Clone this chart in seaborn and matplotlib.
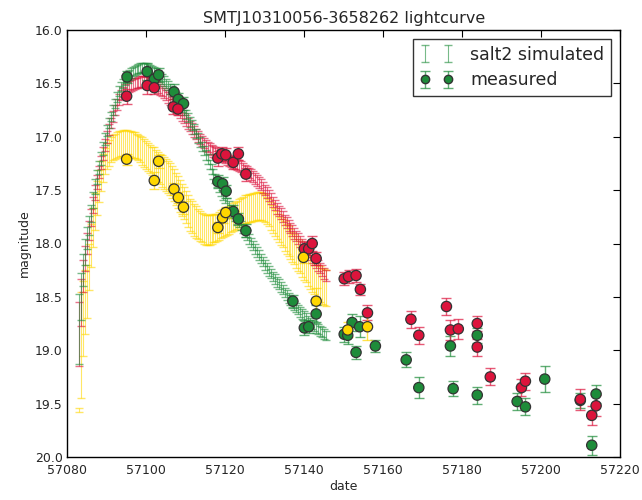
import numpy as np
import pandas as pd
import matplotlib
matplotlib.use("Agg")
import matplotlib.pyplot as plt
import seaborn as sns
from matplotlib.legend_handler import HandlerTuple
from matplotlib.lines import Line2D

# ---------------- simulated (salt2) light curves, half-day grid 57083.0 .. 57145.5 ----------------
sim_dates = [57083 + 0.5 * i for i in range(126)]

sim_g = [18.80, 18.50, 18.25, 18.08, 17.95, 17.83, 17.72, 17.59, 17.47, 17.38,
         17.29, 17.20, 17.11, 17.02, 16.94, 16.87, 16.81, 16.75, 16.69, 16.63,
         16.57, 16.53, 16.50, 16.47, 16.44, 16.42, 16.40, 16.39, 16.38, 16.37,
         16.36, 16.355, 16.35, 16.35, 16.35, 16.36, 16.37, 16.38, 16.39, 16.40,
         16.42, 16.44, 16.46, 16.48, 16.50, 16.52, 16.55, 16.57, 16.60, 16.63,
         16.66, 16.69, 16.72, 16.75, 16.79, 16.82, 16.86, 16.89, 16.93, 16.97,
         17.01, 17.05, 17.09, 17.13, 17.17, 17.21, 17.26, 17.30, 17.35, 17.39,
         17.43, 17.47, 17.51, 17.55, 17.58, 17.62, 17.65, 17.68, 17.71, 17.74,
         17.77, 17.80, 17.83, 17.86, 17.89, 17.92, 17.96, 17.99, 18.02, 18.05,
         18.08, 18.11, 18.14, 18.17, 18.20, 18.23, 18.26, 18.28, 18.31, 18.33,
         18.36, 18.38, 18.41, 18.43, 18.46, 18.48, 18.51, 18.53, 18.55, 18.58,
         18.60, 18.62, 18.64, 18.66, 18.68, 18.70, 18.72, 18.74, 18.76, 18.77,
         18.79, 18.80, 18.82, 18.83, 18.85, 18.86]
sim_g_err = [0.33, 0.22, 0.15, 0.12, 0.10, 0.09, 0.08, 0.075, 0.07, 0.065,
             0.06, 0.06, 0.06, 0.055, 0.05] + [0.045] * 111

sim_r = [18.85, 18.55, 18.30, 18.14, 18.00, 17.88, 17.76, 17.64, 17.52, 17.42,
         17.33, 17.24, 17.16, 17.08, 17.00, 16.93, 16.87, 16.81, 16.75, 16.70,
         16.65, 16.61, 16.58, 16.56, 16.54, 16.53, 16.52, 16.51, 16.50, 16.495,
         16.49, 16.485, 16.48, 16.48, 16.48, 16.485, 16.49, 16.50, 16.51, 16.525,
         16.54, 16.555, 16.57, 16.59, 16.61, 16.63, 16.65, 16.675, 16.70, 16.725,
         16.75, 16.775, 16.80, 16.825, 16.85, 16.875, 16.90, 16.925, 16.95, 16.975,
         17.00, 17.02, 17.04, 17.06, 17.08, 17.095, 17.11, 17.125, 17.14, 17.15,
         17.16, 17.17, 17.18, 17.19, 17.20, 17.21, 17.22, 17.23, 17.24, 17.25,
         17.26, 17.27, 17.28, 17.295, 17.31, 17.325, 17.34, 17.355, 17.37, 17.39,
         17.41, 17.43, 17.45, 17.475, 17.50, 17.525, 17.55, 17.58, 17.61, 17.64,
         17.67, 17.695, 17.72, 17.75, 17.78, 17.805, 17.83, 17.855, 17.88, 17.905,
         17.93, 17.955, 17.98, 18.005, 18.03, 18.055, 18.08, 18.105, 18.13, 18.155,
         18.18, 18.205, 18.23, 18.255, 18.28, 18.30]
sim_r_err = [0.30, 0.22, 0.15, 0.12, 0.10, 0.09, 0.08, 0.075, 0.07, 0.065,
             0.06, 0.06, 0.06, 0.055, 0.055] + [0.05] * 111

sim_y = [19.56, 18.95, 18.70, 18.55, 18.45, 18.22, 18.02, 17.85, 17.70, 17.57,
         17.46, 17.37, 17.29, 17.23, 17.18, 17.15, 17.12, 17.10, 17.09, 17.08,
         17.07, 17.065, 17.06, 17.06, 17.06, 17.065, 17.07, 17.075, 17.08, 17.09,
         17.10, 17.115, 17.13, 17.15, 17.17, 17.19, 17.21, 17.225, 17.24, 17.26,
         17.28, 17.30, 17.32, 17.34, 17.36, 17.38, 17.40, 17.425, 17.45, 17.485,
         17.52, 17.555, 17.59, 17.625, 17.66, 17.695, 17.73, 17.755, 17.78, 17.80,
         17.82, 17.835, 17.85, 17.86, 17.87, 17.87, 17.87, 17.865, 17.86, 17.855,
         17.85, 17.835, 17.82, 17.81, 17.80, 17.79, 17.78, 17.765, 17.75, 17.74,
         17.73, 17.715, 17.70, 17.69, 17.68, 17.675, 17.67, 17.665, 17.66, 17.655,
         17.65, 17.65, 17.65, 17.66, 17.67, 17.69, 17.71, 17.74, 17.77, 17.80,
         17.83, 17.855, 17.88, 17.905, 17.93, 17.955, 17.98, 18.005, 18.03, 18.055,
         18.08, 18.105, 18.13, 18.16, 18.19, 18.215, 18.24, 18.265, 18.29, 18.315,
         18.34, 18.36, 18.38, 18.395, 18.41, 18.42]
sim_y_err = ([0.02, 0.50, 0.35, 0.30, 0.25, 0.22, 0.20, 0.18, 0.17, 0.16,
              0.15, 0.14, 0.13] + [0.12] * 19 + [0.13] * 6 + [0.14] * 4 + [0.15] * 18
             + [0.14] * 8 + [0.13] * 36 + [0.14] * 6 + [0.15] * 6 + [0.16] * 6 + [0.17] * 4)

# ---------------- measured points ----------------
meas_g_date = [57095.1, 57100.2, 57102.0, 57103.1, 57107.0, 57108.1, 57109.4,
               57118.1, 57119.3, 57120.2, 57122.0, 57123.3, 57125.2,
               57137.1, 57140.0, 57141.1, 57143.0, 57150.1, 57151.0, 57152.1,
               57153.1, 57154.0, 57158.0, 57165.8, 57169.0, 57177.0, 57177.7,
               57183.8, 57183.8, 57193.9, 57196.0, 57200.9, 57209.9, 57212.8,
               57213.9]
meas_g_mag = [16.44, 16.39, 16.46, 16.42, 16.58, 16.65, 16.69,
              17.42, 17.44, 17.51, 17.70, 17.77, 17.88,
              18.54, 18.79, 18.78, 18.66, 18.85, 18.86, 18.74,
              19.02, 18.78, 18.96, 19.09, 19.35, 18.96, 19.36,
              18.86, 19.42, 19.48, 19.53, 19.27, 19.47, 19.89,
              19.41]
meas_g_err = [0.06, 0.08, 0.06, 0.06, 0.07, 0.06, 0.06,
              0.06, 0.06, 0.06, 0.06, 0.06, 0.06,
              0.06, 0.07, 0.06, 0.08, 0.07, 0.08, 0.08,
              0.06, 0.10, 0.06, 0.07, 0.10, 0.09, 0.07,
              0.07, 0.08, 0.08, 0.08, 0.12, 0.07, 0.09,
              0.08]

meas_r_date = [57095.0, 57100.2, 57102.0, 57106.8, 57108.0,
               57118.1, 57119.1, 57120.1, 57122.0, 57123.3, 57125.2,
               57140.0, 57141.1, 57142.0, 57143.0, 57150.1, 57151.2, 57153.1,
               57154.2, 57156.0, 57167.0, 57169.0, 57176.0, 57177.0, 57179.0,
               57183.8, 57183.8, 57187.1, 57195.0, 57196.0, 57209.9, 57212.8,
               57213.9]
meas_r_mag = [16.62, 16.52, 16.54, 16.72, 16.74,
              17.20, 17.16, 17.17, 17.24, 17.16, 17.35,
              18.05, 18.05, 18.00, 18.14, 18.33, 18.31, 18.30,
              18.43, 18.65, 18.71, 18.86, 18.59, 18.81, 18.80,
              18.75, 18.97, 19.25, 19.35, 19.29, 19.46, 19.61,
              19.52]
meas_r_err = [0.07, 0.08, 0.06, 0.07, 0.06,
              0.07, 0.06, 0.06, 0.06, 0.06, 0.06,
              0.06, 0.06, 0.07, 0.06, 0.06, 0.06, 0.06,
              0.05, 0.07, 0.08, 0.08, 0.08, 0.09, 0.09,
              0.07, 0.08, 0.08, 0.08, 0.08, 0.10, 0.09,
              0.10]

meas_y_date = [57095.0, 57102.0, 57103.1, 57107.0, 57108.1, 57109.4,
               57118.1, 57119.3, 57120.1, 57139.8, 57143.0, 57151.0, 57156.0]
meas_y_mag = [17.21, 17.41, 17.23, 17.49, 17.57, 17.66,
              17.85, 17.76, 17.71, 18.13, 18.54, 18.81, 18.78]
meas_y_err = [0.05, 0.08, 0.06, 0.06, 0.05, 0.06,
              0.05, 0.05, 0.05, 0.05, 0.12, 0.07, 0.12]

x_ticks = [57080, 57100, 57120, 57140, 57160, 57180, 57200, 57220]
y_ticks = [16.0, 16.5, 17.0, 17.5, 18.0, 18.5, 19.0, 19.5, 20.0]

GREEN = "#1e8c3a"
RED = "#dc143c"
GOLD = "#ffd700"

sns.set_style("white")
plt.rcParams["font.family"] = ["DejaVu Sans"]

fig = plt.figure(figsize=(6.42, 5.0), dpi=100)
ax = fig.add_axes([0.105, 0.086, 0.861, 0.854])

# simulated curves
sim_handles = {}
for mags, errs, col in [(sim_y, sim_y_err, GOLD), (sim_r, sim_r_err, RED), (sim_g, sim_g_err, GREEN)]:
    n = min(len(sim_dates), len(mags), len(errs))
    h = ax.errorbar(sim_dates[:n], mags[:n], yerr=errs[:n], fmt="none", ecolor=col,
                    elinewidth=0.8, capsize=3.0, capthick=1.0, alpha=0.6, zorder=2)
    sim_handles[col] = h

# measured points: error bars
meas_handles = {}
for d, m, e, col in [(meas_g_date, meas_g_mag, meas_g_err, GREEN),
                     (meas_r_date, meas_r_mag, meas_r_err, RED),
                     (meas_y_date, meas_y_mag, meas_y_err, GOLD)]:
    h = ax.errorbar(d, m, yerr=e, fmt="none", ecolor=col, elinewidth=1.0,
                    capsize=3.5, capthick=1.0, alpha=0.7, zorder=3)
    meas_handles[col] = h

# measured points: markers via seaborn
df = pd.concat([
    pd.DataFrame({"date": meas_g_date, "mag": meas_g_mag, "band": "g"}),
    pd.DataFrame({"date": meas_r_date, "mag": meas_r_mag, "band": "r"}),
    pd.DataFrame({"date": meas_y_date, "mag": meas_y_mag, "band": "y"}),
])
sns.scatterplot(data=df, x="date", y="mag", hue="band",
                palette={"g": GREEN, "r": RED, "y": GOLD},
                s=55, edgecolor="#333333", linewidth=0.9, legend=False, ax=ax, zorder=4)

ax.set_xlim(57080, 57220)
ax.set_ylim(20.0, 16.0)
ax.set_xticks(x_ticks)
ax.set_xticklabels([str(t) for t in x_ticks], fontsize=9)
ax.set_yticks(y_ticks)
ax.set_yticklabels([f"{t:.1f}" for t in y_ticks], fontsize=9)
ax.tick_params(direction="in", top=True, right=True, length=5, width=0.8, color="black")
ax.tick_params(axis="x", pad=5)
for s in ax.spines.values():
    s.set_color("black")
    s.set_linewidth(1.0)

ax.set_xlabel("date", fontsize=9, labelpad=2)
ax.set_ylabel("magnitude", fontsize=9, labelpad=3)
ax.set_title("SMTJ10310056-3658262 lightcurve", fontsize=11.5, pad=5)

dot = Line2D([], [], linestyle="none", marker="o", markersize=6,
             markerfacecolor=GREEN, markeredgecolor="#333333")
leg = ax.legend([sim_handles[GREEN], (meas_handles[GREEN], dot)],
                ["salt2 simulated", "measured"], loc="upper right",
                numpoints=2, fontsize=12.5, frameon=True, fancybox=False,
                borderaxespad=0.5, handlelength=1.9, handletextpad=1.0,
                borderpad=0.4, labelspacing=0.45,
                handler_map={tuple: HandlerTuple(ndivide=1)})
leg.get_frame().set_edgecolor("black")
leg.get_frame().set_linewidth(1.0)

fig.savefig("out.png", dpi=100)
